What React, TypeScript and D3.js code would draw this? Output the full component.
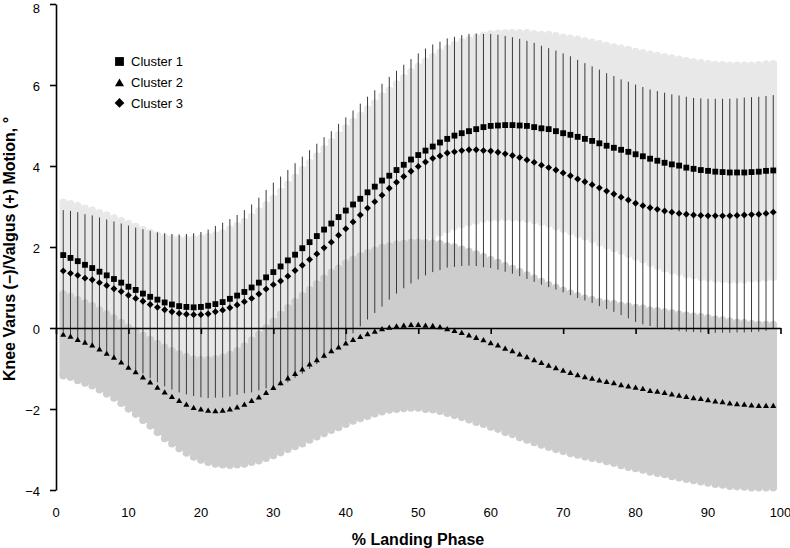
import React, { useEffect, useRef } from 'react';
import * as d3 from 'd3';

// % landing phase sample points
const phase = [
  1, 2, 3, 4, 5, 6, 7, 8, 9, 10, 11, 12, 13, 14, 15, 16, 17, 18, 19, 20,
  21, 22, 23, 24, 25, 26, 27, 28, 29, 30, 31, 32, 33, 34, 35, 36, 37, 38, 39, 40,
  41, 42, 43, 44, 45, 46, 47, 48, 49, 50, 51, 52, 53, 54, 55, 56, 57, 58, 59, 60,
  61, 62, 63, 64, 65, 66, 67, 68, 69, 70, 71, 72, 73, 74, 75, 76, 77, 78, 79, 80,
  81, 82, 83, 84, 85, 86, 87, 88, 89, 90, 91, 92, 93, 94, 95, 96, 97, 98, 99,
];

// Cluster 1 (squares) mean
const cluster1 = [
  1.80, 1.73, 1.65, 1.56, 1.48, 1.39, 1.30, 1.21, 1.12, 1.02,
  0.94, 0.85, 0.77, 0.70, 0.63, 0.58, 0.54, 0.52, 0.51, 0.52,
  0.55, 0.59, 0.64, 0.72, 0.80, 0.89, 1.00, 1.12, 1.25, 1.38,
  1.52, 1.67, 1.81, 1.97, 2.12, 2.27, 2.43, 2.58, 2.74, 2.90,
  3.05, 3.19, 3.35, 3.49, 3.64, 3.76, 3.90, 4.03, 4.16, 4.27,
  4.38, 4.48, 4.58, 4.67, 4.75, 4.81, 4.86, 4.91, 4.96, 4.99,
  5.00, 5.01, 5.01, 5.00, 4.99, 4.96, 4.93, 4.91, 4.86, 4.81,
  4.77, 4.72, 4.67, 4.62, 4.56, 4.50, 4.45, 4.40, 4.35, 4.29,
  4.24, 4.18, 4.13, 4.08, 4.04, 4.01, 3.96, 3.93, 3.90, 3.88,
  3.86, 3.85, 3.84, 3.84, 3.84, 3.85, 3.86, 3.88, 3.89,
];

// Cluster 2 (triangles) mean
const cluster2 = [
  -0.17, -0.22, -0.30, -0.37, -0.44, -0.54, -0.64, -0.74, -0.86, -0.99,
  -1.10, -1.23, -1.35, -1.48, -1.60, -1.71, -1.81, -1.90, -1.98, -2.02,
  -2.05, -2.06, -2.05, -2.02, -1.97, -1.90, -1.81, -1.72, -1.61, -1.49,
  -1.37, -1.25, -1.14, -1.03, -0.91, -0.80, -0.69, -0.58, -0.49, -0.39,
  -0.30, -0.23, -0.16, -0.10, -0.04, 0.00, 0.03, 0.05, 0.07, 0.07,
  0.05, 0.04, 0.01, -0.04, -0.08, -0.13, -0.19, -0.25, -0.31, -0.38,
  -0.44, -0.52, -0.58, -0.66, -0.73, -0.80, -0.87, -0.94, -1.00, -1.06,
  -1.12, -1.17, -1.22, -1.26, -1.30, -1.34, -1.37, -1.42, -1.45, -1.48,
  -1.51, -1.56, -1.58, -1.61, -1.65, -1.68, -1.71, -1.74, -1.76, -1.79,
  -1.82, -1.84, -1.87, -1.89, -1.90, -1.92, -1.93, -1.93, -1.93,
];

// Cluster 3 (diamonds) mean
const cluster3 = [
  1.41, 1.35, 1.30, 1.23, 1.19, 1.12, 1.05, 0.97, 0.90, 0.81,
  0.73, 0.66, 0.58, 0.51, 0.45, 0.40, 0.36, 0.34, 0.33, 0.33,
  0.35, 0.40, 0.44, 0.50, 0.57, 0.65, 0.73, 0.84, 0.96, 1.07,
  1.16, 1.28, 1.42, 1.55, 1.69, 1.83, 1.98, 2.12, 2.29, 2.45,
  2.62, 2.79, 2.96, 3.12, 3.28, 3.45, 3.60, 3.74, 3.87, 3.99,
  4.10, 4.19, 4.25, 4.32, 4.35, 4.38, 4.40, 4.40, 4.38, 4.37,
  4.34, 4.30, 4.26, 4.21, 4.15, 4.09, 4.02, 3.96, 3.90, 3.83,
  3.76, 3.68, 3.61, 3.54, 3.46, 3.38, 3.31, 3.23, 3.16, 3.08,
  3.02, 2.97, 2.93, 2.89, 2.86, 2.83, 2.81, 2.79, 2.78, 2.77,
  2.77, 2.77, 2.77, 2.78, 2.79, 2.80, 2.81, 2.83, 2.86,
];

// standard deviations
const sd1 = [
  1.40, 1.43, 1.46, 1.49, 1.52, 1.55, 1.58, 1.60, 1.62, 1.65,
  1.66, 1.67, 1.68, 1.69, 1.70, 1.72, 1.74, 1.76, 1.78, 1.80,
  1.80, 1.80, 1.80, 1.81, 1.82, 1.83, 1.84, 1.86, 1.88, 1.91,
  1.94, 1.97, 2.00, 2.03, 2.05, 2.07, 2.09, 2.11, 2.12, 2.13,
  2.14, 2.15, 2.15, 2.16, 2.18, 2.20, 2.22, 2.24, 2.26, 2.28,
  2.30, 2.31, 2.32, 2.33, 2.34, 2.35, 2.35, 2.36, 2.36, 2.37,
  2.37, 2.37, 2.38, 2.38, 2.39, 2.40, 2.41, 2.43, 2.45, 2.46,
  2.48, 2.50, 2.51, 2.53, 2.55, 2.57, 2.58, 2.60, 2.62, 2.63,
  2.65, 2.67, 2.69, 2.71, 2.72, 2.72, 2.73, 2.73, 2.74, 2.74,
  2.74, 2.74, 2.74, 2.74, 2.74, 2.73, 2.73, 2.73, 2.73,
];

const sd2 = [
  1.10, 1.09, 1.09, 1.08, 1.08, 1.08, 1.08, 1.08, 1.09, 1.10,
  1.12, 1.14, 1.16, 1.19, 1.22, 1.24, 1.26, 1.28, 1.30, 1.33,
  1.36, 1.39, 1.42, 1.46, 1.50, 1.55, 1.60, 1.65, 1.70, 1.75,
  1.80, 1.84, 1.88, 1.92, 1.95, 1.98, 2.01, 2.04, 2.06, 2.08,
  2.09, 2.10, 2.11, 2.11, 2.12, 2.12, 2.13, 2.13, 2.14, 2.14,
  2.15, 2.15, 2.16, 2.16, 2.17, 2.17, 2.17, 2.17, 2.16, 2.16,
  2.15, 2.15, 2.14, 2.14, 2.13, 2.12, 2.11, 2.10, 2.09, 2.08,
  2.07, 2.06, 2.05, 2.05, 2.04, 2.05, 2.06, 2.07, 2.08, 2.08,
  2.09, 2.09, 2.10, 2.10, 2.11, 2.11, 2.12, 2.12, 2.13, 2.13,
  2.13, 2.13, 2.13, 2.12, 2.12, 2.12, 2.11, 2.11, 2.11,
];

const sd3 = [
  1.50, 1.54, 1.56, 1.58, 1.59, 1.61, 1.63, 1.66, 1.68, 1.72,
  1.75, 1.78, 1.82, 1.85, 1.89, 1.92, 1.95, 1.98, 2.01, 2.04,
  2.08, 2.12, 2.16, 2.19, 2.22, 2.26, 2.32, 2.38, 2.45, 2.52,
  2.58, 2.62, 2.65, 2.68, 2.70, 2.72, 2.73, 2.74, 2.75, 2.75,
  2.75, 2.75, 2.75, 2.75, 2.75, 2.75, 2.75, 2.76, 2.77, 2.79,
  2.80, 2.81, 2.82, 2.83, 2.84, 2.85, 2.86, 2.87, 2.88, 2.89,
  2.90, 2.91, 2.92, 2.93, 2.94, 2.95, 2.95, 2.95, 2.95, 2.95,
  2.95, 2.94, 2.93, 2.92, 2.92, 2.91, 2.91, 2.91, 2.92, 2.93,
  2.93, 2.92, 2.92, 2.92, 2.91, 2.91, 2.90, 2.89, 2.89, 2.89,
  2.89, 2.89, 2.89, 2.89, 2.90, 2.90, 2.90, 2.90, 2.89,
];

const xTicks = [0, 10, 20, 30, 40, 50, 60, 70, 80, 90, 100];
const yTicks = [-4, -2, 0, 2, 4, 6, 8];
const legendLabels = ['Cluster 1', 'Cluster 2', 'Cluster 3'];

const FONT = '"Liberation Sans", Arial, Helvetica, sans-serif';

const App = () => {
  const ref = useRef<SVGSVGElement>(null);

  useEffect(() => {
    const width = 790;
    const height = 548;

    const svg = d3.select(ref.current)
      .attr('width', width)
      .attr('height', height);

    svg.selectAll('*').remove();

    const x = d3.scaleLinear().domain([0, 100]).range([56, 780.5]);
    const y = d3.scaleLinear().domain([-4, 8]).range([490, 4]);

    // sd bands: one polygon + a circle on each edge point (scalloped edge)
    const R = 3.8;
    const band = (mean: number[], sd: number[], color: string) => {
      const g = svg.append('g').attr('fill', color);
      const idx = phase.map((d, i) => i);
      const pts = [
        { px: x(phase[0]) - R, i: 0 },
        ...idx.map(i => ({ px: x(phase[i]), i })),
        { px: x(phase[phase.length - 1]) + R, i: phase.length - 1 },
      ];
      const area = d3.area<{ px: number; i: number }>()
        .x(p => p.px)
        .y0(p => y(mean[p.i] - sd[p.i]) - R)
        .y1(p => y(mean[p.i] + sd[p.i]) + R);
      g.append('path').attr('d', area(pts));
      g.selectAll('circle.top')
        .data(idx)
        .enter()
        .append('circle')
        .attr('class', 'top')
        .attr('cx', i => x(phase[i]))
        .attr('cy', i => y(mean[i] + sd[i]) + R)
        .attr('r', R);
      g.selectAll('circle.bot')
        .data(idx)
        .enter()
        .append('circle')
        .attr('class', 'bot')
        .attr('cx', i => x(phase[i]))
        .attr('cy', i => y(mean[i] - sd[i]) - R)
        .attr('r', R);
    };
    band(cluster1, sd1, '#e8e8e8');
    band(cluster2, sd2, '#cdcdcd');

    // cluster 3 error bars
    svg.append('g')
      .selectAll('line')
      .data(phase)
      .enter()
      .append('line')
      .attr('x1', d => x(d))
      .attr('x2', d => x(d))
      .attr('y1', (d, i) => y(cluster3[i] + sd3[i]))
      .attr('y2', (d, i) => y(cluster3[i] - sd3[i]))
      .attr('stroke', '#3a3a3a')
      .attr('stroke-width', 1);

    // x axis sits on zero
    const xAxis = svg.append('g')
      .attr('transform', `translate(0,${y(0)})`)
      .call(d3.axisBottom(x).tickValues(xTicks).tickSize(6).tickSizeOuter(0).tickFormat(() => ''));
    xAxis.selectAll('path, line').attr('stroke', '#000').attr('stroke-width', 1.6);

    // x tick labels at the bottom
    svg.append('g')
      .selectAll('text')
      .data(xTicks)
      .enter()
      .append('text')
      .attr('x', d => x(d))
      .attr('y', 517)
      .attr('text-anchor', 'middle')
      .attr('font-family', FONT)
      .attr('font-size', 13)
      .text(d => d);

    const yAxis = svg.append('g')
      .attr('transform', `translate(${x(0)},0)`)
      .call(d3.axisLeft(y).tickValues(yTicks).tickSize(6).tickSizeOuter(0).tickPadding(10));
    yAxis.attr('font-family', FONT).attr('font-size', 13);
    yAxis.selectAll('path, line').attr('stroke', '#000').attr('stroke-width', 1.6);
    // top label sits right at the edge, nudge it down so it stays inside
    yAxis.selectAll<SVGTextElement, number>('text')
      .attr('fill', '#000')
      .attr('dy', d => (d === 8 ? '0.62em' : '0.4em'));

    // markers
    const shapes = [
      { data: cluster1, sym: d3.symbol().type(d3.symbolSquare).size(34) },
      { data: cluster2, sym: d3.symbol().type(d3.symbolTriangle).size(16) },
      { data: cluster3, sym: d3.symbol().type(d3.symbolDiamond2).size(30) },
    ];
    shapes.forEach(s => {
      svg.append('g')
        .selectAll('path')
        .data(phase)
        .enter()
        .append('path')
        .attr('transform', (d, i) => `translate(${x(d)},${y(s.data[i])})`)
        .attr('d', s.sym())
        .attr('fill', '#000');
    });

    // legend
    const legendSyms = [
      d3.symbol().type(d3.symbolSquare).size(78),
      d3.symbol().type(d3.symbolTriangle).size(36),
      d3.symbol().type(d3.symbolDiamond2).size(60),
    ];
    const legend = svg.append('g').attr('transform', 'translate(119.5,61.5)');
    const item = legend.selectAll('g')
      .data(legendLabels)
      .enter()
      .append('g')
      .attr('transform', (d, i) => `translate(0,${i * 20.7})`);
    item.append('path')
      .attr('d', (d, i) => legendSyms[i]())
      .attr('transform', (d, i) => (i === 1 ? 'translate(0,1.5)' : null))
      .attr('fill', '#000');
    item.append('text')
      .attr('x', 11.5)
      .attr('dy', '0.36em')
      .attr('font-family', FONT)
      .attr('font-size', 13)
      .text(d => d);

    // axis titles
    svg.append('text')
      .attr('x', 418)
      .attr('y', 545)
      .attr('text-anchor', 'middle')
      .attr('font-family', FONT)
      .attr('font-size', 16)
      .attr('font-weight', 'bold')
      .text('% Landing Phase');

    svg.append('text')
      .attr('transform', 'translate(15,249) rotate(-90)')
      .attr('text-anchor', 'middle')
      .attr('font-family', FONT)
      .attr('font-size', 16)
      .attr('font-weight', 'bold')
      .text('Knee Varus (\u2212)/Valgus (+) Motion, \u00b0');
  }, []);

  return (
    <svg
      ref={ref}
      style={{ position: 'absolute', left: 0, top: 0, background: '#fff' }}
    />
  );
};

export default App;
